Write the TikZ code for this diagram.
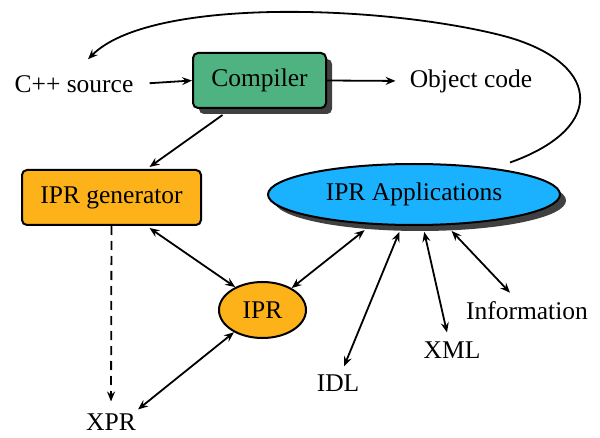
\documentclass[tikz,border=0pt]{standalone}
\usepackage{fontspec}
\setmainfont{Liberation Serif}
\usetikzlibrary{shapes.geometric,shadows,arrows.meta,calc}
\definecolor{cgreen}{RGB}{78,179,128}
\definecolor{corange}{RGB}{253,178,26}
\definecolor{ccyan}{RGB}{26,178,255}
\definecolor{cshadow}{RGB}{64,64,64}
\begin{document}
\begin{tikzpicture}[x=1pt,y=1pt,
  font=\fontsize{25.5}{30}\selectfont,
  lbl/.style={inner sep=4pt},
  box/.style={draw=black,line width=2pt,rounded corners=5pt,inner sep=0pt},
  oval/.style={ellipse,draw=black,line width=2pt,inner sep=0pt},
  shad/.style={drop shadow={shadow xshift=6pt,shadow yshift=-6pt,fill=cshadow,opacity=1}},
  arr/.style={line width=1.8pt,-{Stealth[length=10pt,width=8pt,inset=3.5pt]}},
  darr/.style={line width=1.8pt,{Stealth[length=10pt,width=8pt,inset=3.5pt]}-{Stealth[length=10pt,width=8pt,inset=3.5pt]}}]
\useasboundingbox (0,0) rectangle (600,437);
\node[box,shad,fill=cgreen,minimum width=133pt,minimum height=55pt] (comp) at (259.5,356.5) {Compiler};
\node[lbl] (cpp) at (74,353) {C++ source};
\node[lbl] (obj) at (471,356) {Object code};
\node[box,fill=corange,minimum width=179pt,minimum height=55pt] (gen) at (111.5,239.5) {IPR generator};
\node[oval,shad,fill=ccyan,minimum width=292pt,minimum height=61pt] (apps) at (414,242.5) {IPR Applications};
\node[oval,fill=corange,minimum width=87pt,minimum height=56pt] (ipr) at (262.5,127) {IPR};
\node[lbl] (xpr) at (111,15) {XPR};
\node[lbl] (idl) at (338,54) {IDL};
\node[lbl] (xml) at (452,87) {XML};
\node[lbl] (info) at (527,126) {Information};
\draw[arr,shorten <=12pt] (cpp.east) -- (comp.west);
\draw[arr,shorten >=10pt] (comp.east) -- (obj.west);
\draw[arr] ([xshift=-37pt,yshift=-6pt]comp.south) -- ([xshift=38pt,yshift=2pt]gen.north);
\draw[arr,dashed,dash pattern=on 9pt off 6pt,shorten >=8pt] (gen.south) -- (xpr.north);
\draw[darr] ([xshift=38pt,yshift=-2pt]gen.south) -- (ipr.140);
\draw[darr] (ipr.218) -- ([xshift=-2pt]xpr.north east);
\draw[darr] ([yshift=-6pt]apps.211) -- (ipr.37);
\draw[darr] ([yshift=-6pt]apps.245) -- ([xshift=6pt,yshift=4pt]idl.north);
\draw[darr] ([yshift=-6pt]apps.288) -- ([xshift=-5pt,yshift=5pt]xml.north);
\draw[darr] ([yshift=-6pt]apps.321) -- ([xshift=-17pt,yshift=5pt]info.north);
\coordinate (loopstart) at ($(apps.center)+(96,32)$);
\draw[arr] (loopstart) .. controls (610,310) and (600,377) .. (500,402)
  .. controls (380,432) and (150,440) .. ([xshift=14pt,yshift=12pt]cpp.north);
\end{tikzpicture}
\end{document}
